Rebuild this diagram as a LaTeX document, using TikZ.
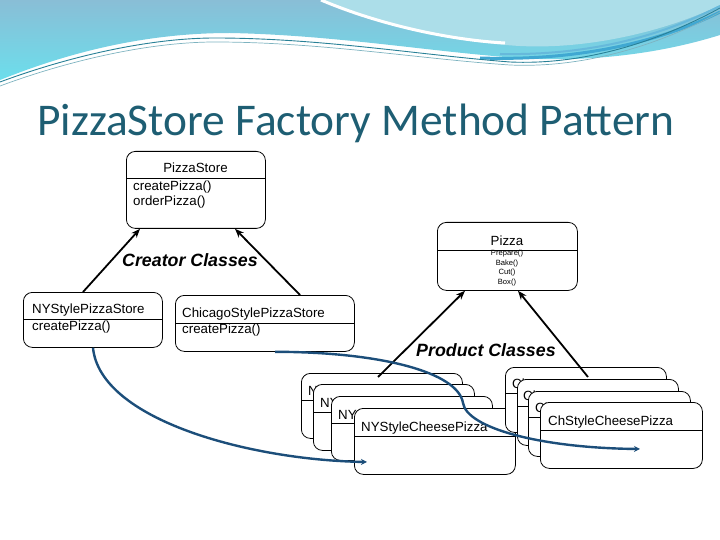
\documentclass[tikz,border=0pt]{standalone}
\usepackage{fontspec}
\setmainfont{Liberation Sans}
\newfontfamily\titlefont{Carlito}
\usetikzlibrary{arrows.meta,calc}
\definecolor{titleteal}{RGB}{30,94,115}
\definecolor{curveblue}{RGB}{28,78,122}
\definecolor{banA}{RGB}{137,190,214}
\definecolor{banB}{RGB}{108,222,236}
\definecolor{banLight}{RGB}{172,222,233}
\definecolor{ribbon}{RGB}{64,168,210}
\definecolor{tealline}{RGB}{40,128,150}
\begin{document}
\begin{tikzpicture}[x=1pt,y=-1pt,
  cls/.style={draw=black, line width=0.8pt, fill=white, rounded corners=9pt, inner sep=0pt, anchor=north west},
  divider/.style={draw=black, line width=0.8pt},
  lbl/.style={inner sep=0pt, anchor=base west, font=\fontsize{13.3}{16}\selectfont},
  meth/.style={inner sep=0pt, anchor=center, font=\fontsize{7.6}{8}\selectfont},
  grp/.style={inner sep=0pt, anchor=base west, font=\fontsize{17.8}{20}\selectfont\bfseries\itshape},
  inherit/.style={draw=black, line width=1.8pt, -{Stealth[length=9pt,width=7pt]}},
  assoc/.style={draw=curveblue, line width=2.4pt, -{Stealth[length=6pt,width=6pt]}}
]
\useasboundingbox (0,0) rectangle (720,540);
% ---------- banner ----------
\shade[top color=banA, bottom color=banB]
  (0,0) -- (720,0) -- (720,35) .. controls (640,60) and (560,62) .. (505,57)
  .. controls (420,50) and (330,35) .. (230,33) .. controls (130,33) and (50,60) .. (0,80) -- cycle;
\fill[banLight] (321,0) .. controls (380,25) and (450,42) .. (520,46)
  .. controls (600,50) and (680,25) .. (720,5) -- (720,0) -- cycle;
\draw[white, line width=3pt] (321,0) .. controls (380,25) and (450,40) .. (505,43);
\draw[ribbon, line width=3pt] (480,58) .. controls (600,62) and (680,32) .. (720,12);
\draw[ribbon!80!white, line width=2pt] (500,54) .. controls (610,56) and (680,26) .. (720,6);
\draw[tealline, line width=0.9pt] (0,82) .. controls (70,56) and (150,38) .. (215,38)
  .. controls (320,38) and (420,55) .. (510,62) .. controls (600,66) and (680,30) .. (720,8);
\draw[tealline!60!white, line width=0.7pt] (0,86) .. controls (70,60) and (150,42) .. (215,42)
  .. controls (320,42) and (420,59) .. (510,65) .. controls (600,69) and (680,34) .. (720,12);
% ---------- title ----------
\node[inner sep=0pt, anchor=base west, text=titleteal, font=\titlefont\fontsize{45.4}{50}\selectfont]
  (title) at (37,136) {PizzaStore Factory Method Pattern};
% ---------- PizzaStore ----------
\node[cls, minimum width=139pt, minimum height=77pt] (ps) at (126,151) {};
\draw[divider] ([yshift=-27pt]ps.north west) -- ([yshift=-27pt]ps.north east);
\node[lbl, anchor=base] (psname) at (195.5,173) {PizzaStore};
\node[lbl] (psm1) at (133,191) {createPizza()};
\node[lbl] (psm2) at (133,206) {orderPizza()};
% ---------- Pizza ----------
\node[cls, minimum width=140pt, minimum height=68pt] (pz) at (437,222) {};
\draw[divider] ([yshift=-28pt]pz.north west) -- ([yshift=-28pt]pz.north east);
\node[lbl, anchor=base] (pzname) at (507,245) {Pizza};
\node[meth] (pzm1) at (507,253.5) {Prepare()};
\node[meth] (pzm2) at (507,263.5) {Bake()};
\node[meth] (pzm3) at (507,272.5) {Cut()};
\node[meth] (pzm4) at (507,282.5) {Box()};
% ---------- creators ----------
\node[cls, minimum width=139pt, minimum height=55pt] (ny) at (23,292) {};
\draw[divider] ([yshift=-27pt]ny.north west) -- ([yshift=-27pt]ny.north east);
\node[lbl] (nyname) at (32,313) {NYStylePizzaStore};
\node[lbl] (nym) at (32,330) {createPizza()};
\node[cls, minimum width=179pt, minimum height=56pt] (chi) at (175,295) {};
\draw[divider] ([yshift=-28pt]chi.north west) -- ([yshift=-28pt]chi.north east);
\node[lbl] (chiname) at (182,317) {ChicagoStylePizzaStore};
\node[lbl] (chim) at (182,333) {createPizza()};
\node[grp] (creator) at (122,266) {Creator Classes};
\node[grp] (product) at (416,356) {Product Classes};
% ---------- NY product stack ----------
\node[cls, minimum width=161pt, minimum height=65pt] (nyA) at (301,373) {};
\draw[divider] ([yshift=-27pt]nyA.north west) -- ([yshift=-27pt]nyA.north east);
\node[lbl] (nyAt) at (308,395) {NY};
\node[cls, minimum width=161pt, minimum height=66pt] (nyB) at (313,384) {};
\draw[divider] ([yshift=-28pt]nyB.north west) -- ([yshift=-28pt]nyB.north east);
\node[lbl] (nyBt) at (320,407) {NY};
\node[cls, minimum width=161pt, minimum height=64pt] (nyC) at (331,396) {};
\draw[divider] ([yshift=-27pt]nyC.north west) -- ([yshift=-27pt]nyC.north east);
\node[lbl] (nyCt) at (338,419) {NY};
\node[cls, minimum width=161pt, minimum height=66pt] (nyD) at (354,408) {};
\draw[divider] ([yshift=-28pt]nyD.north west) -- ([yshift=-28pt]nyD.north east);
\node[lbl] (nyDt) at (361,431) {NYStyleCheesePizza};
% ---------- Chicago product stack ----------
\node[cls, minimum width=161pt, minimum height=65pt] (chA) at (505,367) {};
\draw[divider] ([yshift=-26pt]chA.north west) -- ([yshift=-26pt]chA.north east);
\node[lbl] (chAt) at (512,388) {Ch};
\node[cls, minimum width=161pt, minimum height=66pt] (chB) at (517,379) {};
\draw[divider] ([yshift=-27pt]chB.north west) -- ([yshift=-27pt]chB.north east);
\node[lbl] (chBt) at (523,400) {Ch};
\node[cls, minimum width=162pt, minimum height=65pt] (chC) at (528,391) {};
\draw[divider] ([yshift=-26pt]chC.north west) -- ([yshift=-26pt]chC.north east);
\node[lbl] (chCt) at (535,412) {Ch};
\node[cls, minimum width=162pt, minimum height=66pt] (chD) at (540,402) {};
\draw[divider] ([yshift=-28pt]chD.north west) -- ([yshift=-28pt]chD.north east);
\node[lbl] (chDt) at (548,425) {ChStyleCheesePizza};
% ---------- inheritance arrows ----------
\draw[inherit] ([xshift=60pt]ny.north west) -- ([xshift=14pt]ps.south west);
\draw[inherit] ([xshift=125pt]chi.north west) -- ([xshift=109pt]ps.south west);
\draw[inherit] ([xshift=77pt,yshift=-4pt]nyA.north west) -- ([xshift=28pt]pz.south west);
\draw[inherit] ([xshift=83pt,yshift=-10pt]chA.north west) -- ([xshift=81pt]pz.south west);
% ---------- creation curves ----------
\draw[assoc] ([xshift=70pt]ny.south west) .. controls (100,420) and (250,460) .. ([xshift=13pt,yshift=-54pt]nyD.north west);
\draw[assoc] ([xshift=100pt]chi.south west) .. controls (380,352) and (458,372) .. (463,403)
  .. controls (467,428) and (540,448) .. ([xshift=100pt,yshift=-47pt]chD.north west);
\end{tikzpicture}
\end{document}
